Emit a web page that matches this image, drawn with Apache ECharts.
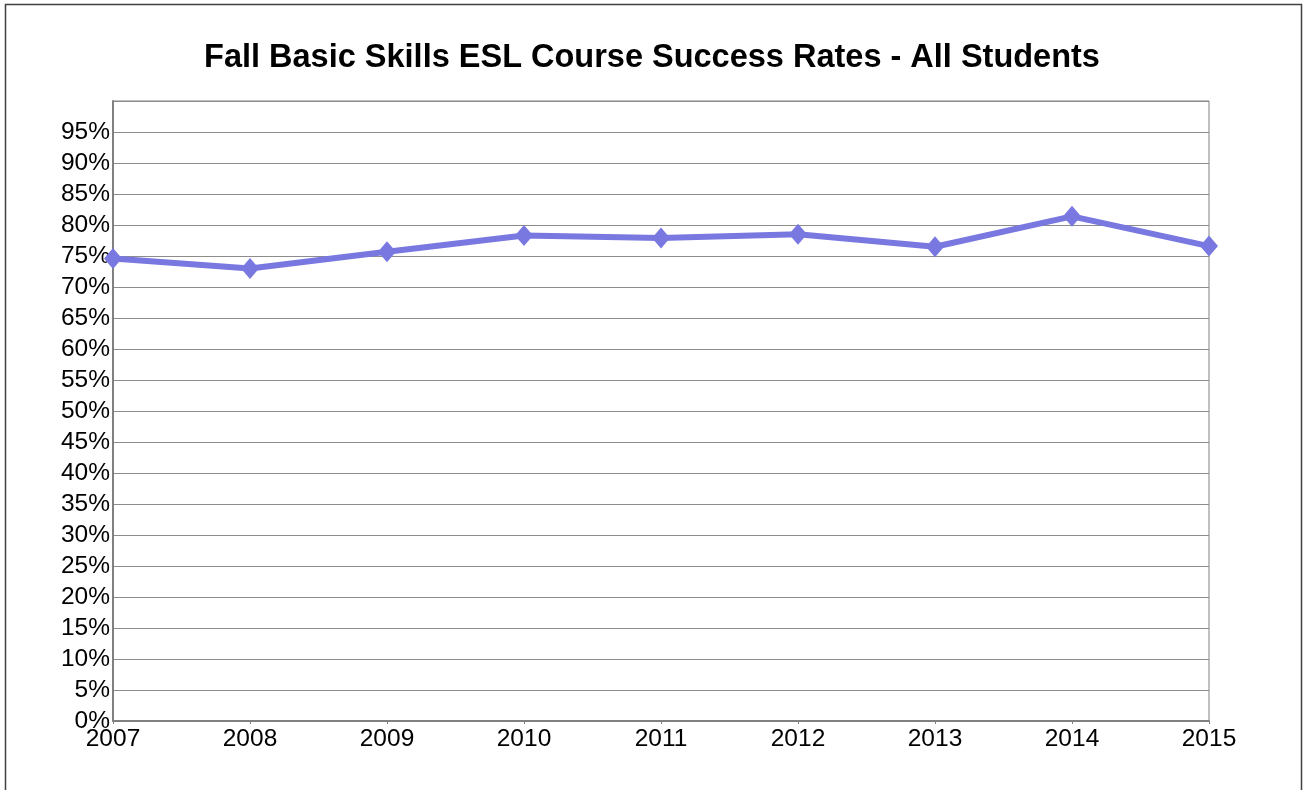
<!DOCTYPE html>
<html>
<head>
<meta charset="utf-8">
<script src="https://cdn.jsdelivr.net/npm/echarts@6/dist/echarts.min.js"></script>
<style>
html,body{margin:0;padding:0;background:#fff;}
#chart{width:1304px;height:790px;}
</style>
</head>
<body>
<div id="chart"></div>
<script>
const titleText = 'Fall Basic Skills ESL Course Success Rates - All Students';
const years = ['2007','2008','2009','2010','2011','2012','2013','2014','2015'];
const successRates = [74.6, 73.0, 75.7, 78.3, 77.9, 78.5, 76.5, 81.4, 76.6];

const chart = echarts.init(document.getElementById('chart'));
chart.setOption({
  animation: false,
  backgroundColor: '#ffffff',
  title: {
    text: titleText,
    left: 'center',
    top: 37,
    textStyle: {fontFamily: 'Liberation Sans, Arial, sans-serif', fontWeight: 'bold', fontSize: 32.5, color: '#000'}
  },
  graphic: [{
    type: 'rect',
    shape: {x: 5.5, y: 4.5, width: 1296, height: 820},
    style: {fill: 'none', stroke: '#404040', lineWidth: 1.5},
    silent: true
  }],
  grid: {
    left: 113, right: 95, top: 101, bottom: 69,
    show: true, borderColor: '#808080', borderWidth: 1
  },
  xAxis: {
    type: 'category',
    data: years,
    boundaryGap: false,
    axisLine: {lineStyle: {color: '#808080', width: 2}},
    axisTick: {show: true, length: 3, lineStyle: {color: '#808080'}},
    axisLabel: {fontFamily: 'Liberation Sans, Arial, sans-serif', fontSize: 24.5, color: '#000', margin: 6},
    splitLine: {show: false}
  },
  yAxis: {
    type: 'value',
    min: 0, max: 100, interval: 5,
    axisLine: {show: true, lineStyle: {color: '#808080', width: 2}},
    axisTick: {show: false},
    axisLabel: {
      fontFamily: 'Liberation Sans, Arial, sans-serif', fontSize: 24.5, color: '#000', margin: 3,
      verticalAlign: 'middle', lineHeight: 24, padding: [3, 0, 0, 0],
      formatter: v => v >= 100 ? '' : v + '%'
    },
    splitLine: {lineStyle: {color: '#8c8c8c', width: 1}}
  },
  series: [{
    type: 'line',
    data: successRates,
    symbol: 'diamond',
    symbolSize: [18, 21],
    lineStyle: {color: '#7878e0', width: 6},
    itemStyle: {color: '#7878e0'},
    z: 5
  }]
});
</script>
</body>
</html>
